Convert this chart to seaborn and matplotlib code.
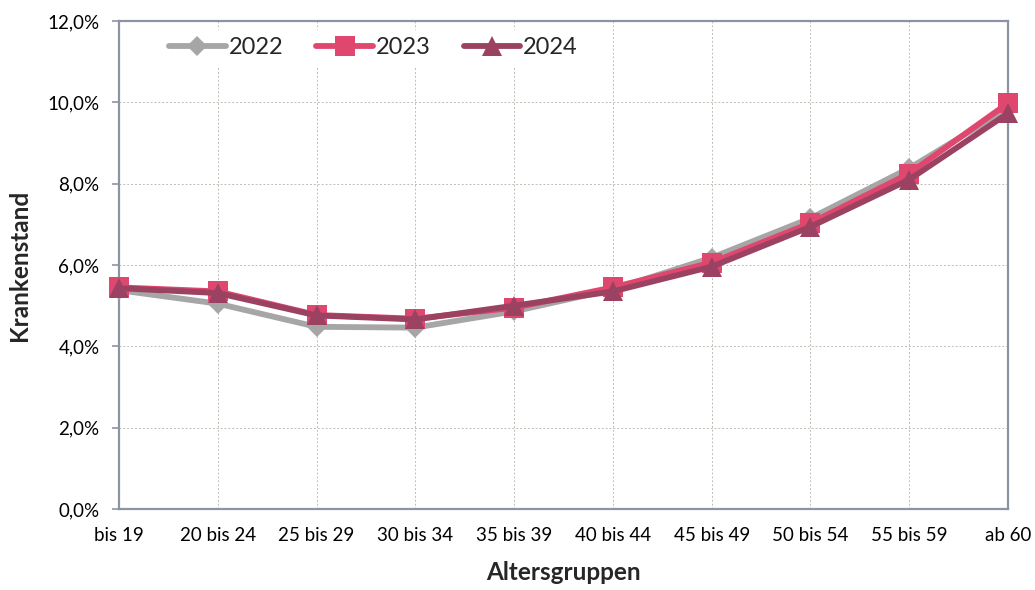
import matplotlib
matplotlib.use("Agg")
import matplotlib.pyplot as plt
import seaborn as sns
import pandas as pd
from matplotlib.ticker import FuncFormatter, MultipleLocator

categories = ["bis 19", "20 bis 24", "25 bis 29", "30 bis 34", "35 bis 39",
              "40 bis 44", "45 bis 49", "50 bis 54", "55 bis 59", "ab 60"]
v2022 = [5.38, 5.05, 4.48, 4.46, 4.86, 5.40, 6.18, 7.15, 8.38, 9.85]
v2023 = [5.45, 5.35, 4.77, 4.68, 4.95, 5.45, 6.06, 7.03, 8.25, 9.98]
v2024 = [5.43, 5.31, 4.76, 4.66, 5.00, 5.35, 5.96, 6.94, 8.10, 9.73]

series = {"2022": v2022, "2023": v2023, "2024": v2024}
colors = {"2022": "#A6A6A6", "2023": "#E0476E", "2024": "#9B4262"}
markers = {"2022": "D", "2023": "s", "2024": "^"}
msizes = {"2022": 10, "2023": 14, "2024": 14}

sns.set_theme(style="white")
plt.rcParams["font.family"] = ["Lato", "DejaVu Sans"]

fig = plt.figure(figsize=(10.35, 5.9), dpi=100)
ax = fig.add_axes([119 / 1035, 1 - 509 / 590, (1008 - 119) / 1035, (509 - 21) / 590])

rows = []
for yr, vals in series.items():
    for i, (c, v) in enumerate(zip(categories, vals)):
        rows.append({"Jahr": yr, "idx": i, "Kategorie": c, "Wert": v})
df = pd.DataFrame(rows)

for k, yr in enumerate(series):
    sub = df[df["Jahr"] == yr]
    sns.lineplot(data=sub, x="idx", y="Wert", ax=ax, color=colors[yr],
                 marker=markers[yr], markersize=msizes[yr], linewidth=4.2,
                 markeredgewidth=0, label=yr, zorder=3 + k, clip_on=False)

ax.set_xlim(0, len(categories) - 1)
ax.set_ylim(0, 12)
ax.yaxis.set_major_locator(MultipleLocator(2))
ax.yaxis.set_major_formatter(FuncFormatter(lambda v, p: f"{v:.1f}%".replace(".", ",")))
ax.set_xticks(range(len(categories)))
ax.set_xticklabels(categories)

ax.grid(True, color="#BFBDB5", linestyle=(0, (2, 2)), linewidth=0.7)
ax.set_axisbelow(True)
for s in ax.spines.values():
    s.set_color("#8C93A3")
    s.set_linewidth(1.6)

ax.tick_params(axis="y", which="major", direction="out", length=5, width=1.2,
               color="#8C93A3", labelsize=13.5, pad=9, left=True)
ax.tick_params(axis="x", which="major", length=0, labelsize=13.5, pad=13)
for lab in ax.get_xticklabels() + ax.get_yticklabels():
    lab.set_color("#000000")

ax.set_xlabel("Altersgruppen", fontsize=17.5, fontweight="bold", labelpad=12)
ax.set_ylabel("Krankenstand", fontsize=17.5, fontweight="bold", labelpad=12)

leg = ax.legend(loc="upper left", bbox_to_anchor=(0.035, 1.006), ncol=3,
                frameon=True, fontsize=17, handlelength=2.4, columnspacing=1.4,
                handletextpad=0.12, borderpad=0.3)
leg.get_frame().set_facecolor("white")
leg.get_frame().set_edgecolor("white")
leg.get_frame().set_alpha(1.0)
leg.set_zorder(10)

fig.savefig("out.png", dpi=100)
